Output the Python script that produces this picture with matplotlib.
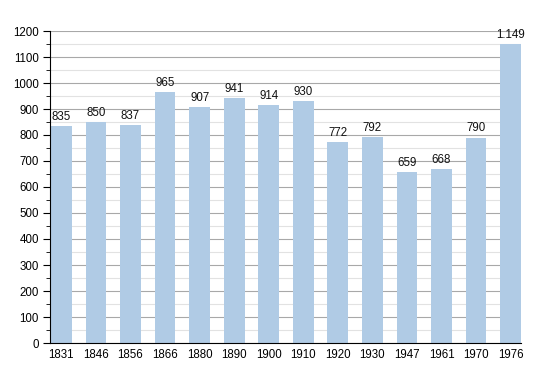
import numpy as np
import matplotlib
matplotlib.use('Agg')
import matplotlib.pyplot as plt
from matplotlib.ticker import MultipleLocator

# ── Data ──────────────────────────────────────────────────────────────────────
years  = ['1831', '1846', '1856', '1866', '1880', '1890', '1900',
          '1910', '1920', '1930', '1947', '1961', '1970', '1976']
values = [835, 850, 837, 965, 907, 941, 914, 930, 772, 792, 659, 668, 790, 1149]
labels = ['835', '850', '837', '965', '907', '941', '914',
          '930', '772', '792', '659', '668', '790', '1.149']

plt.rcParams['font.family'] = ['Liberation Sans', 'DejaVu Sans']
FS = 8.3

fig = plt.figure(figsize=(5.5, 3.73), dpi=100)
ax = fig.add_axes([50/550, 1 - 343/373, (521 - 50)/550, (343 - 31)/373])

x = np.arange(len(years))
ax.bar(x, values, width=0.6, color='#b0cbe5', zorder=2)

for xi, v, lab in zip(x, values, labels):
    ax.text(xi, v + 12, lab, ha='center', va='bottom', fontsize=FS, color='#111111')

ax.set_xlim(-0.33, len(years) - 0.7)
ax.set_ylim(0, 1200)
ax.yaxis.set_major_locator(MultipleLocator(100))
ax.yaxis.set_minor_locator(MultipleLocator(50))
ax.grid(which='major', axis='y', color='#a8a8a8', linewidth=0.8, zorder=0)
ax.grid(which='minor', axis='y', color='#e2e2e2', linewidth=0.8, zorder=0)
ax.set_axisbelow(True)

ax.set_xticks(x)
ax.set_xticklabels(years)
ax.tick_params(axis='x', length=0, labelsize=FS, pad=4)
ax.tick_params(axis='y', which='major', length=5, labelsize=FS, pad=3)
ax.tick_params(axis='y', which='minor', length=3)

for s in ['top', 'right']:
    ax.spines[s].set_visible(False)
ax.spines['left'].set_color('black')
ax.spines['bottom'].set_color('black')

fig.savefig('out.png', dpi=100)
